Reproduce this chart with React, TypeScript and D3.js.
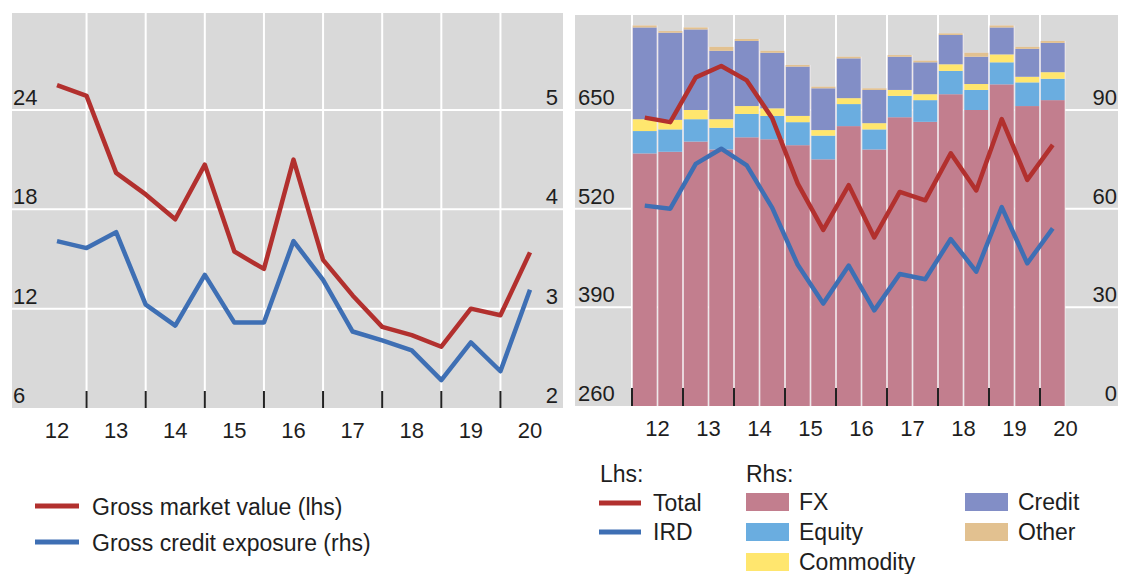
import React, { useEffect, useRef } from "react";
import * as d3 from "d3";

// half-year observations, 2012 H1 .. 2020 H1
const periods = ["12H1", "12H2", "13H1", "13H2", "14H1", "14H2", "15H1", "15H2", "16H1", "16H2", "17H1", "17H2", "18H1", "18H2", "19H1", "19H2", "20H1"];
const yearLabels = ["12", "13", "14", "15", "16", "17", "18", "19", "20"];

// left panel
const grossMarketValue = [25.5, 24.85, 20.2, 18.9, 17.4, 20.7, 15.45, 14.4, 21.0, 14.95, 12.8, 10.9, 10.4, 9.7, 12.0, 11.6, 15.4];
const grossCreditExposure = [3.68, 3.61, 3.77, 3.04, 2.83, 3.34, 2.86, 2.86, 3.68, 3.29, 2.77, 2.68, 2.58, 2.28, 2.66, 2.37, 3.19];
const leftTicksL = [6, 12, 18, 24];
const leftTicksR = [2, 3, 4, 5];

// right panel
const totalLine = [640, 634, 693, 708, 689, 639, 553, 492, 551, 482, 542, 531, 593, 544, 638, 558, 604];
const irdLine = [524, 520, 579, 599, 577, 521, 446, 395, 445, 386, 434, 427, 480, 437, 522, 448, 494];
const fx = [76.8, 77.3, 80.4, 78.0, 81.7, 81.1, 79.3, 75.0, 85.1, 78.0, 87.8, 86.4, 94.8, 90.0, 97.8, 91.2, 93.0];
const equity = [6.8, 6.8, 6.8, 6.6, 7.1, 7.1, 7.0, 7.2, 6.7, 6.1, 6.5, 6.6, 7.1, 6.1, 6.7, 7.2, 6.5];
const commodity = [3.6, 2.9, 2.8, 2.6, 2.4, 2.3, 1.9, 1.7, 1.8, 1.9, 1.8, 1.8, 2.0, 1.8, 2.4, 1.7, 2.0];
const credit = [27.9, 26.5, 24.5, 20.8, 19.8, 16.9, 15.0, 12.7, 12.1, 10.1, 10.1, 9.7, 8.9, 8.3, 8.2, 8.5, 8.9];
const other = [0.6, 0.5, 0.6, 1.2, 0.6, 0.6, 0.5, 0.5, 0.5, 0.5, 0.5, 0.5, 0.5, 1.2, 0.6, 0.6, 0.6];
const rightTicksL = [260, 390, 520, 650];
const rightTicksR = [0, 30, 60, 90];

const RED = "#b2302e";
const BLUE = "#3e6fb4";
const GREY = "#d9d9d9";
const TXT = "#1e1e1e";
const FONT = "'Liberation Sans', Arial, sans-serif";
const segColors = { fx: "#c27e8e", equity: "#6aade0", commodity: "#ffe66e", credit: "#828ec6", other: "#e2c190" };

export default function App() {
  const ref = useRef<SVGSVGElement>(null);

  useEffect(() => {
    const svg = d3.select(ref.current);
    svg.selectAll("*").remove();
    const txt = (g: any, x: number, y: number, s: string, anchor = "start", size = 22) =>
      g.append("text").attr("x", x).attr("y", y).attr("text-anchor", anchor)
        .attr("font-family", FONT).attr("font-size", size).attr("fill", TXT).text(s);

    // ---------- left panel ----------
    const L = { x0: 12, x1: 563, y0: 13, y1: 408 };
    const lx = d3.scaleLinear().domain([0, periods.length - 1]).range([57, 530]);
    const ly = d3.scaleLinear().domain([6, 24]).range([408, 110]);
    const ry = d3.scaleLinear().domain([2, 5]).range([408, 110]);
    const gl = svg.append("g");
    gl.append("rect").attr("x", L.x0).attr("y", L.y0).attr("width", L.x1 - L.x0).attr("height", L.y1 - L.y0).attr("fill", GREY);
    leftTicksL.slice(1).forEach((t) => {
      gl.append("line").attr("x1", L.x0).attr("x2", L.x1).attr("y1", ly(t)).attr("y2", ly(t)).attr("stroke", "#fff").attr("stroke-width", 2);
    });
    // year boundaries (between H1 and H2 points of next year)
    const lBounds = d3.range(1, periods.length - 1, 2).map((i) => lx(i));
    lBounds.forEach((x) => {
      gl.append("line").attr("x1", x).attr("x2", x).attr("y1", L.y0).attr("y2", L.y1).attr("stroke", "#fff").attr("stroke-width", 2);
      gl.append("line").attr("x1", x).attr("x2", x).attr("y1", L.y1 - 17).attr("y2", L.y1).attr("stroke", "#222").attr("stroke-width", 2);
    });
    leftTicksL.forEach((t) => txt(gl, L.x0 + 1, ly(t) - 5, String(t)));
    leftTicksR.forEach((t) => txt(gl, L.x1 - 5, ry(t) - 5, String(t), "end"));
    yearLabels.forEach((s, i) => txt(gl, lx(i * 2), 438, s, "middle"));
    const lineL = d3.line<number>().x((_, i) => lx(i)).y((d) => ly(d));
    const lineR = d3.line<number>().x((_, i) => lx(i)).y((d) => ry(d));
    gl.append("path").attr("d", lineL(grossMarketValue)).attr("fill", "none").attr("stroke", RED).attr("stroke-width", 4.5).attr("stroke-linejoin", "round");
    gl.append("path").attr("d", lineR(grossCreditExposure)).attr("fill", "none").attr("stroke", BLUE).attr("stroke-width", 4.5).attr("stroke-linejoin", "round");

    // ---------- right panel ----------
    const R = { x0: 575, x1: 1118, y0: 15, y1: 406 };
    const bx = d3.scaleBand<string>().domain(periods).range([632, 632 + 25.5 * periods.length]).padding(0);
    const by = d3.scaleLinear().domain([0, 90]).range([406, 110]);
    const tly = d3.scaleLinear().domain([260, 650]).range([406, 110]);
    const gr = svg.append("g");
    gr.append("rect").attr("x", R.x0).attr("y", R.y0).attr("width", R.x1 - R.x0).attr("height", R.y1 - R.y0).attr("fill", GREY);
    rightTicksL.slice(1).forEach((t) => {
      gr.append("line").attr("x1", R.x0).attr("x2", R.x1).attr("y1", tly(t)).attr("y2", tly(t)).attr("stroke", "#fff").attr("stroke-width", 2);
    });
    const rBounds = d3.range(0, periods.length, 2).map((i) => bx(periods[i]) as number);
    rBounds.forEach((x) => {
      gr.append("line").attr("x1", x).attr("x2", x).attr("y1", R.y0).attr("y2", R.y1).attr("stroke", "#fff").attr("stroke-width", 2);
    });

    const rows = periods.map((p, i) => ({ p, fx: fx[i], equity: equity[i], commodity: commodity[i], credit: credit[i], other: other[i] }));
    const keys = ["fx", "equity", "commodity", "credit", "other"];
    const stacked = d3.stack<any>().keys(keys)(rows);
    const bw = bx.bandwidth();
    // white backing shows as thin gaps between neighbouring bars
    rows.forEach((r: any) => {
      const top = d3.sum(keys, (k) => r[k]);
      gr.append("rect").attr("x", bx(r.p) as number).attr("width", bw).attr("y", by(top)).attr("height", by(0) - by(top)).attr("fill", "#f3eef0");
    });
    stacked.forEach((layer) => {
      gr.append("g").attr("fill", (segColors as any)[layer.key])
        .selectAll("rect").data(layer).enter().append("rect")
        .attr("x", (d: any) => (bx(d.data.p) as number) + 0.8)
        .attr("width", bw - 1.6)
        .attr("y", (d: any) => by(d[1]))
        .attr("height", (d: any) => by(d[0]) - by(d[1]));
    });
    rBounds.forEach((x) => {
      gr.append("line").attr("x1", x).attr("x2", x).attr("y1", R.y1 - 18).attr("y2", R.y1).attr("stroke", "#222").attr("stroke-width", 2);
    });
    rightTicksL.forEach((t) => txt(gr, R.x0 + 3, tly(t) - 5, String(t)));
    rightTicksR.forEach((t) => txt(gr, R.x1 - 1, by(t) - 5, String(t), "end"));
    yearLabels.forEach((s, i) => txt(gr, (bx(periods[i * 2]) as number) + bw, 436, s, "middle"));
    const cx = (i: number) => (bx(periods[i]) as number) + bw / 2;
    const lineT = d3.line<number>().x((_, i) => cx(i)).y((d) => tly(d));
    gr.append("path").attr("d", lineT(totalLine)).attr("fill", "none").attr("stroke", RED).attr("stroke-width", 4.5).attr("stroke-linejoin", "round");
    gr.append("path").attr("d", lineT(irdLine)).attr("fill", "none").attr("stroke", BLUE).attr("stroke-width", 4.5).attr("stroke-linejoin", "round");

    // ---------- legends ----------
    const lg = svg.append("g");
    [["Gross market value (lhs)", RED, 506], ["Gross credit exposure (rhs)", BLUE, 542]].forEach(([s, c, y]: any) => {
      lg.append("line").attr("x1", 35).attr("x2", 79).attr("y1", y).attr("y2", y).attr("stroke", c).attr("stroke-width", 5);
      txt(lg, 92, y + 9, s, "start", 23);
    });
    txt(lg, 600, 482, "Lhs:", "start", 23);
    txt(lg, 746, 482, "Rhs:", "start", 23);
    [["Total", RED, 503], ["IRD", BLUE, 532]].forEach(([s, c, y]: any) => {
      lg.append("line").attr("x1", 599).attr("x2", 641).attr("y1", y).attr("y2", y).attr("stroke", c).attr("stroke-width", 5);
      txt(lg, 653, y + 8, s, "start", 23);
    });
    const boxes: any[] = [
      ["FX", "fx", 746, 493], ["Equity", "equity", 746, 523], ["Commodity", "commodity", 746, 553],
      ["Credit", "credit", 965, 493], ["Other", "other", 965, 523],
    ];
    boxes.forEach(([s, k, x, y]) => {
      lg.append("rect").attr("x", x).attr("y", y).attr("width", 43).attr("height", 18).attr("fill", (segColors as any)[k]);
      txt(lg, x + 53, y + 17, s, "start", 23);
    });
  }, []);

  return <svg ref={ref} width={1121} height={574} style={{ position: "absolute", left: 0, top: 0, background: "#fff" }} />;
}
